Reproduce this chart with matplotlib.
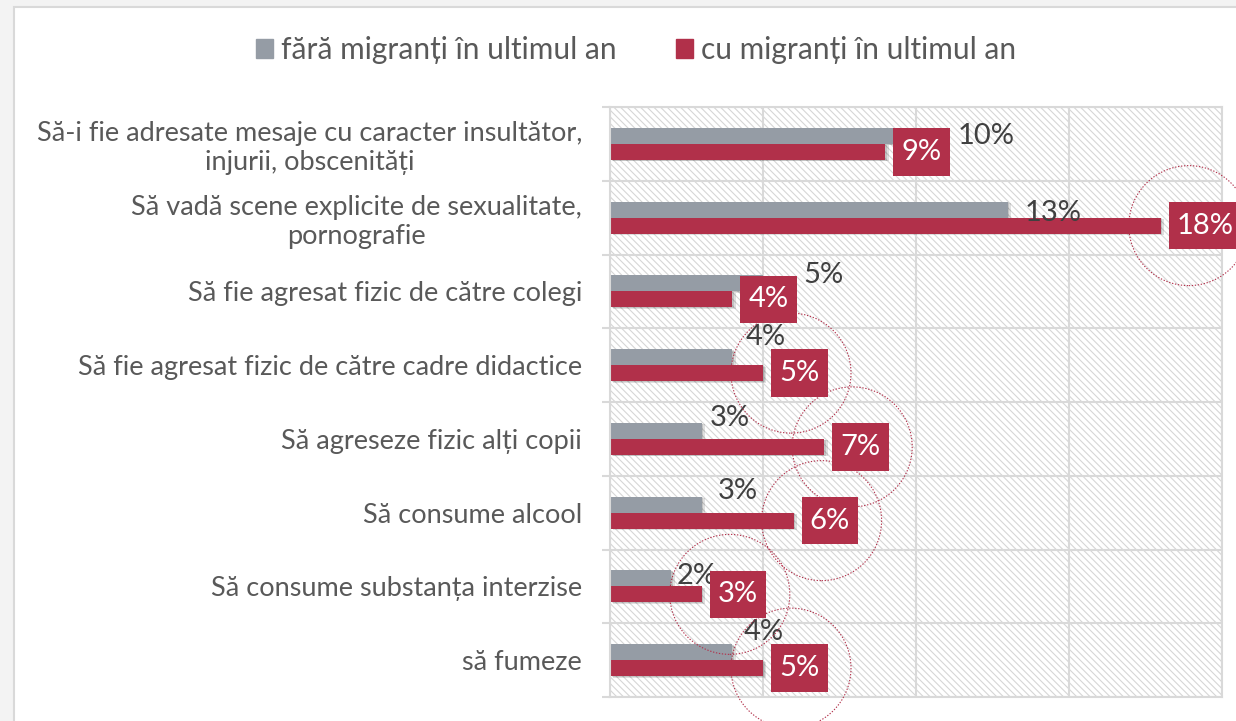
import matplotlib.pyplot as plt
import matplotlib.patches as mpatches
import matplotlib.patheffects as pe
from matplotlib.path import Path
from matplotlib.transforms import ScaledTranslation
import numpy as np

plt.rcParams['font.family'] = ['Lato', 'DejaVu Sans']
plt.rcParams['hatch.linewidth'] = 0.8

categories = [
    "Să-i fie adresate mesaje cu caracter insultător,\ninjurii, obscenități",
    "Să vadă scene explicite de sexualitate,\npornografie",
    "Să fie agresat fizic de către colegi",
    "Să fie agresat fizic de către cadre didactice",
    "Să agreseze fizic alți copii",
    "Să consume alcool",
    "Să consume substanța interzise",
    "să fumeze",
]
series_names = ["fără migranți în ultimul an", "cu migranți în ultimul an"]
no_migrants = [10, 13, 5, 4, 3, 3, 2, 4]
with_migrants = [9, 18, 4, 5, 7, 6, 3, 5]

# hand-placed grey labels: (dx, dy) in pixels from the bar end
gray_label_shift = [(42, 0), (17, -3), (40, 8), (13, 20), (8, 13), (16, 14), (5, 2), (11, 20)]
# rows whose red label gets a dotted circle
circled = [1, 3, 4, 5, 6, 7]

GRAY = '#959ca5'
RED = '#b1304a'
GRID = '#d9d9d9'
PX = 0.72  # points per pixel at 100 dpi


def label_box(x0, y0, width, height, mutation_size, padx=0.28, pady=0.37):
    # rectangular box with more room above and below than at the sides
    dx, dy = padx * mutation_size, pady * mutation_size
    x0, y0 = x0 - dx, y0 - dy
    x1, y1 = x0 + width + 2 * dx, y0 + height + 2 * dy
    return Path([(x0, y0), (x1, y0), (x1, y1), (x0, y1), (x0, y0)], closed=True)


fig = plt.figure(figsize=(12.36, 7.21), dpi=100, facecolor='#f3f3f3')
fig.add_artist(mpatches.Rectangle((14 / 1236, -0.1), 1.2, 1.1 - 7 / 721,
                                  transform=fig.transFigure, facecolor='white',
                                  edgecolor=GRID, lw=1.5, zorder=-1))

ax = fig.add_axes([610 / 1236, 24 / 721, 612 / 1236, 590 / 721])
ax.set_facecolor('white')
ax.add_patch(mpatches.Rectangle((0, 0), 1, 1, transform=ax.transAxes,
                                facecolor='white', edgecolor='#d6d6d6',
                                hatch='\\' * 5, lw=0, zorder=0))
ax.set_axisbelow(True)

n = len(categories)
y = np.arange(n)
h = 0.217
shadow = [pe.SimplePatchShadow(offset=(2.5, -1), shadow_rgbFace='k', alpha=0.12),
          pe.SimplePatchShadow(offset=(1.2, -0.5), shadow_rgbFace='k', alpha=0.12),
          pe.Normal()]
gb = ax.barh(y - h / 2, no_migrants, height=h, color=GRAY, zorder=2)
rb = ax.barh(y + h / 2, with_migrants, height=h, color=RED, zorder=2)
for b in list(gb) + list(rb):
    b.set_path_effects(shadow)

ax.set_xlim(0, 20)
ax.set_ylim(n - 0.5, -0.5)
ax.set_xticks([0, 5, 10, 15, 20])
ax.tick_params(axis='x', length=0, labelbottom=False)
ax.set_yticks(np.arange(n + 1) - 0.5)
ax.set_yticklabels([])
ax.tick_params(axis='y', which='major', length=6, width=1.5, color=GRID)
ax.set_yticks(y, minor=True)
ax.set_yticklabels(categories, minor=True, fontsize=19.5, color='#595959',
                   multialignment='center', linespacing=1.2)
ax.tick_params(axis='y', which='minor', length=0, pad=20)
ax.grid(True, which='major', color=GRID, lw=1.5)
for s in ax.spines.values():
    s.set_color(GRID)
    s.set_linewidth(1.5)

for i, v in enumerate(no_migrants):
    dx, dy = gray_label_shift[i]
    ax.annotate(f"{v}%", (v, y[i] - h / 2), xytext=(dx * PX, dy * PX),
                textcoords='offset points', ha='left', va='center',
                fontsize=21, color='#404040', zorder=4)

for i, v in enumerate(with_migrants):
    ax.annotate(f"{v}%", (v, y[i] + h / 2), xytext=(8 * PX + 0.28 * 21, 0),
                textcoords='offset points', ha='left', va='center',
                fontsize=21, color='white', zorder=5,
                bbox=dict(boxstyle=label_box, fc=RED, ec='none'))

for i in circled:
    tr = fig.dpi_scale_trans + ScaledTranslation(with_migrants[i], y[i] + h / 2, ax.transData)
    c = mpatches.Circle((0.28, 0), 0.6, transform=tr, fill=False, ec=RED,
                        lw=0.8, ls=(0, (1.2, 1.5)), zorder=6)
    ax.add_artist(c)
    c.set_clip_on(False)

handles = [mpatches.Patch(color=GRAY, label=series_names[0]),
           mpatches.Patch(color=RED, label=series_names[1])]
fig.legend(handles=handles, loc='center', bbox_to_anchor=(636 / 1236, 1 - 50 / 721),
           ncol=2, frameon=False, fontsize=21.5, handlelength=0.57, handleheight=0.6,
           handletextpad=0.27, columnspacing=2.0, labelcolor='#595959')

fig.savefig('out.png', dpi=100, facecolor=fig.get_facecolor())
